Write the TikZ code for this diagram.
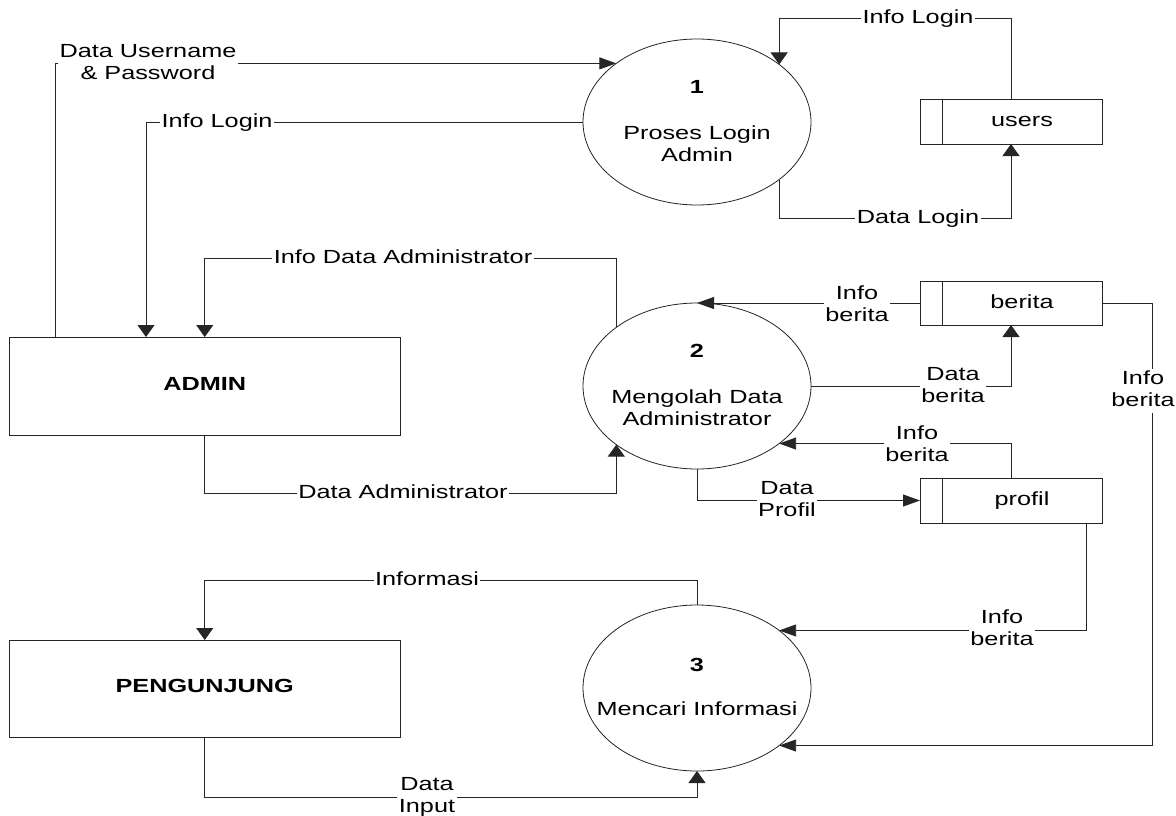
\documentclass[tikz,border=0pt]{standalone}
\usepackage{fontspec}
\setmainfont{Liberation Sans}
\usetikzlibrary{shapes.geometric,arrows.meta}
\newcommand\sx[1]{\scalebox{1.33}[1]{\begin{tabular}{@{}c@{}}#1\end{tabular}}}
\begin{document}
\begin{tikzpicture}[x=1pt,y=-1pt,
  line/.style={draw=black!85, line width=0.9pt},
  harr/.style={line, -{Triangle[length=17pt,width=12pt]}},
  varr/.style={line, -{Triangle[length=12pt,width=17pt]}},
  ent/.style={draw=black!85, line width=0.9pt, rectangle, minimum width=390.5pt, minimum height=98pt, inner sep=0pt, outer sep=0pt, font=\bfseries\fontsize{19}{22}\selectfont},
  proc/.style={draw=black!85, line width=0.8pt, ellipse, minimum width=228pt, minimum height=166pt, inner sep=0pt, outer sep=0pt},
  store/.style={draw=black!85, line width=0.9pt, rectangle, minimum width=182pt, minimum height=45pt, inner sep=0pt, outer sep=0pt},
  lbl/.style={fill=white, inner xsep=1.5pt, inner ysep=0pt, font=\fontsize{19}{22}\selectfont},
  txt/.style={inner sep=0pt, font=\fontsize{19}{22}\selectfont},
  num/.style={inner sep=0pt, font=\bfseries\fontsize{19}{22}\selectfont},
]
\fill[white] (0,0) rectangle (1176,816);
\useasboundingbox (0,0) rectangle (1176,816);

% entities
\node[ent] (admin) at (204.75,386) {\sx{ADMIN}};
\node[ent, minimum height=97pt] (peng) at (204.75,688.5) {\sx{PENGUNJUNG}};

% processes
\node[proc] (c1) at (697,122) {};
\node[proc] (c2) at (697,386) {};
\node[proc] (c3) at (697,688) {};
\node[num] (n1) at (697,89) {\sx{1}};
\node[txt] (p1) at (697,146) {\sx{Proses Login\\Admin}};
\node[num] (n2) at (697,353) {\sx{2}};
\node[txt] (p2) at (697,410) {\sx{Mengolah Data\\Administrator}};
\node[num] (n3) at (697,667) {\sx{3}};
\node[txt] (p3) at (697,711) {\sx{Mencari Informasi}};

% data stores
\node[store] (users) at (1011,121.5) {};
\draw[line] ([xshift=22pt]users.north west) -- ([xshift=22pt]users.south west);
\node[txt] (tu) at (1022,122.5) {\sx{users}};
\node[store, minimum height=44pt] (berita) at (1011,303) {};
\draw[line] ([xshift=22pt]berita.north west) -- ([xshift=22pt]berita.south west);
\node[txt] (tb) at (1022,304) {\sx{berita}};
\node[store] (profil) at (1011,500.5) {};
\draw[line] ([xshift=22pt]profil.north west) -- ([xshift=22pt]profil.south west);
\node[txt] (tp) at (1022,501.5) {\sx{profil}};

% helper coordinates
\coordinate (x55) at (55,0);
\coordinate (x146) at (146,0);
\coordinate (x1152) at (1152,0);
\coordinate (y18) at (0,18);
\coordinate (y218) at (0,218);
\coordinate (y258) at (0,258);
\coordinate (y493) at (0,493);
\coordinate (y580) at (0,580);
\coordinate (y797) at (0,797);

% connectors
\draw[harr] (admin.north -| x55) |- (c1.144.2);
\draw[varr] (c1.west) -| (admin.north -| x146);
\draw[varr] (c2.144.2) |- (y258 -| admin.north) -- (admin.north);
\draw[varr] (admin.south) |- (y493 -| c2.-144.2) -- (c2.-144.2);
\draw[varr] (users.north) |- (y18 -| c1.35.8) -- (c1.35.8);
\draw[varr] (c1.-35.8) |- (y218 -| users.south) -- (users.south);
\draw[harr] (berita.west) -- (c2.north);
\draw[varr] (c2.east) -| (berita.south);
\draw[harr] (profil.north) |- (c2.-35.8);
\draw[harr] (c2.south) |- (profil.west);
\draw[harr] ([xshift=75pt]profil.south) |- (c3.35.8);
\draw[harr] (berita.east) -- (berita.east -| x1152) |- (c3.-35.8);
\draw[varr] (c3.north) |- (y580 -| peng.north) -- (peng.north);
\draw[varr] (peng.south) |- (y797 -| c3.south) -- (c3.south);

% labels
\node[lbl] (lDU) at (148,64) {\sx{Data Username\\\& Password}};
\node[lbl] (lIL1) at (217,123) {\sx{Info Login}};
\node[lbl] (lIDA) at (403,259) {\sx{Info Data Administrator}};
\node[lbl] (lDA) at (403,494) {\sx{Data Administrator}};
\node[lbl] (lIL2) at (918,19) {\sx{Info Login}};
\node[lbl] (lDL) at (918,219) {\sx{Data Login}};
\node[lbl] (lIB1) at (857,306) {\sx{Info\\berita}};
\node[lbl] (lDB) at (953,387) {\sx{Data\\berita}};
\node[lbl] (lIB2) at (917,446) {\sx{Info\\berita}};
\node[lbl] (lDP) at (787,501) {\sx{Data\\Profil}};
\node[lbl] (lIB3) at (1002,630) {\sx{Info\\berita}};
\node[lbl] (lIB4) at (1143,391) {\sx{Info\\berita}};
\node[lbl] (lInf) at (427,581) {\sx{Informasi}};
\node[lbl] (lDI) at (427,797) {\sx{Data\\Input}};
\end{tikzpicture}
\end{document}
